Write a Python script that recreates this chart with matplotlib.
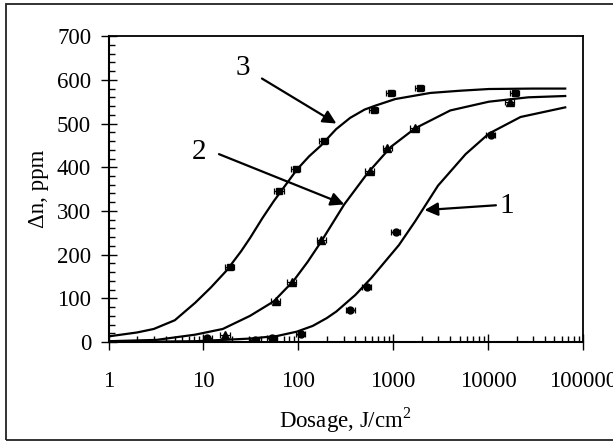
import matplotlib
matplotlib.use("Agg")
import matplotlib.pyplot as plt
from matplotlib.ticker import FixedLocator, MultipleLocator, LogLocator, NullFormatter, FixedFormatter
from matplotlib.patches import Rectangle

plt.rcParams['font.family'] = ['Liberation Serif', 'DejaVu Serif']
plt.rcParams['mathtext.fontset'] = 'custom'
plt.rcParams['mathtext.rm'] = 'Liberation Serif'

# ---- data ----
# fitted curves
curve1_x = [1, 8.2, 31, 60, 97, 142, 200, 252, 400, 590, 1150, 1700, 2970, 5800, 10200, 22000, 65000]
curve1_y = [0, 2, 8, 14, 24, 37, 55, 70, 108, 147, 222, 276, 358, 430, 477, 515, 537]

curve2_x = [1, 3.2, 8.2, 16, 31, 55, 89, 125, 172, 305, 535, 950, 1700, 4000, 10200, 26500, 65000]
curve2_y = [2, 5, 17, 30, 60, 93, 140, 183, 228, 315, 386, 447, 489, 530, 550, 560, 563]

curve3_x = [1, 2, 3, 5, 8.2, 12, 17.6, 25, 31, 42, 55, 75, 97, 130, 172, 250, 352, 500, 650,
            1050, 2460, 5000, 10200, 30000, 65000]
curve3_y = [13, 22, 30, 50, 90, 125, 164, 208, 238, 284, 322, 362, 395, 425, 449, 487, 513,
            532, 541, 556, 570, 575, 579, 580, 580]

# measured points
pts1_x = [11, 35, 53, 107, 355, 525, 1070, 10700]
pts1_y = [9, 5, 10, 19, 73, 126, 253, 473]
pts1_xerr = [1.2, 3.8, 5.8, 12, 39, 58, 118, 1180]

pts2_x = [17, 58, 85, 175, 565, 870, 1700, 17000]
pts2_y = [17, 95, 137, 234, 392, 444, 489, 550]
pts2_xerr = [1.9, 6.4, 9.4, 19, 62, 96, 187, 1870]

pts3_x = [19, 63, 95, 186, 630, 950, 1900, 19000]
pts3_y = [172, 346, 395, 460, 532, 569, 582, 570]
pts3_xerr = [2.1, 6.9, 10.5, 20, 69, 105, 209, 2090]

x_ticks = [1, 10, 100, 1000, 10000, 100000]
x_tick_labels = ["1", "10", "100", "1000", "10000", "100000"]
y_ticks = [0, 100, 200, 300, 400, 500, 600, 700]

curve_labels = ["1", "2", "3"]

# ---- figure ----
fig = plt.figure(figsize=(6.13, 4.46), dpi=100)
ax = fig.add_axes([0.177, 0.233, 0.774, 0.686])

lw = 1.6
ax.plot(curve1_x, curve1_y, color='black', lw=lw)
ax.plot(curve2_x, curve2_y, color='black', lw=lw)
ax.plot(curve3_x, curve3_y, color='black', lw=lw)

ekw = dict(ecolor='black', elinewidth=0.9, capsize=2.5, capthick=0.9, linestyle='none', color='black')
ax.errorbar(pts1_x, pts1_y, xerr=pts1_xerr, marker='o', markersize=5, **ekw)
ax.errorbar(pts2_x, pts2_y, xerr=pts2_xerr, marker='^', markersize=5.5, **ekw)
ax.errorbar(pts3_x, pts3_y, xerr=pts3_xerr, marker='s', markersize=5, **ekw)

ax.set_xscale('log')
ax.set_xlim(1, 100000)
ax.set_ylim(0, 700)

ax.xaxis.set_major_locator(FixedLocator(x_ticks))
ax.xaxis.set_major_formatter(FixedFormatter(x_tick_labels))
ax.xaxis.set_minor_locator(LogLocator(base=10, subs=range(2, 10), numticks=20))
ax.xaxis.set_minor_formatter(NullFormatter())
ax.yaxis.set_major_locator(FixedLocator(y_ticks))
ax.yaxis.set_minor_locator(MultipleLocator(20))

ax.tick_params(which='major', direction='inout', length=11, width=1.0, labelsize=16.5, color='black')
ax.tick_params(axis='x', which='major', pad=15)
ax.tick_params(axis='y', which='major', pad=7)
ax.tick_params(which='minor', direction='in', length=4.5, width=1.0, color='black')
ax.tick_params(top=False, right=False, which='both')

for s in ['left', 'bottom']:
    ax.spines[s].set_linewidth(1.5)
for s in ['top', 'right']:
    ax.spines[s].set_linewidth(1.3)

ax.set_ylabel("\u0394n, ppm", fontsize=16.5, labelpad=6)
ax.set_xlabel(r"Dosage, J/cm$^{\mathregular{2}}$", fontsize=16.5, labelpad=10)

arrowkw = dict(arrowstyle='-|>', lw=1.6, color='black', mutation_scale=20, shrinkA=0, shrinkB=0)
ax.annotate("", xy=(252, 500), xytext=(41.4, 603), arrowprops=arrowkw)
ax.annotate("", xy=(305, 315), xytext=(14.6, 430), arrowprops=arrowkw)
ax.annotate("", xy=(2140, 302), xytext=(12100, 313), arrowprops=arrowkw)

ax.text(15900, 311, curve_labels[0], fontsize=21, ha='center', va='center')
ax.text(8.9, 435, curve_labels[1], fontsize=21, ha='center', va='center')
ax.text(25.8, 626, curve_labels[2], fontsize=21, ha='center', va='center')

# outer frame
fig.patches.append(Rectangle((6 / 613, 1 - 440 / 446), 0.995, (440 - 4) / 446,
                             transform=fig.transFigure, fill=False, lw=1.3,
                             edgecolor='#222222', zorder=0))

fig.savefig("out.png", dpi=100)
